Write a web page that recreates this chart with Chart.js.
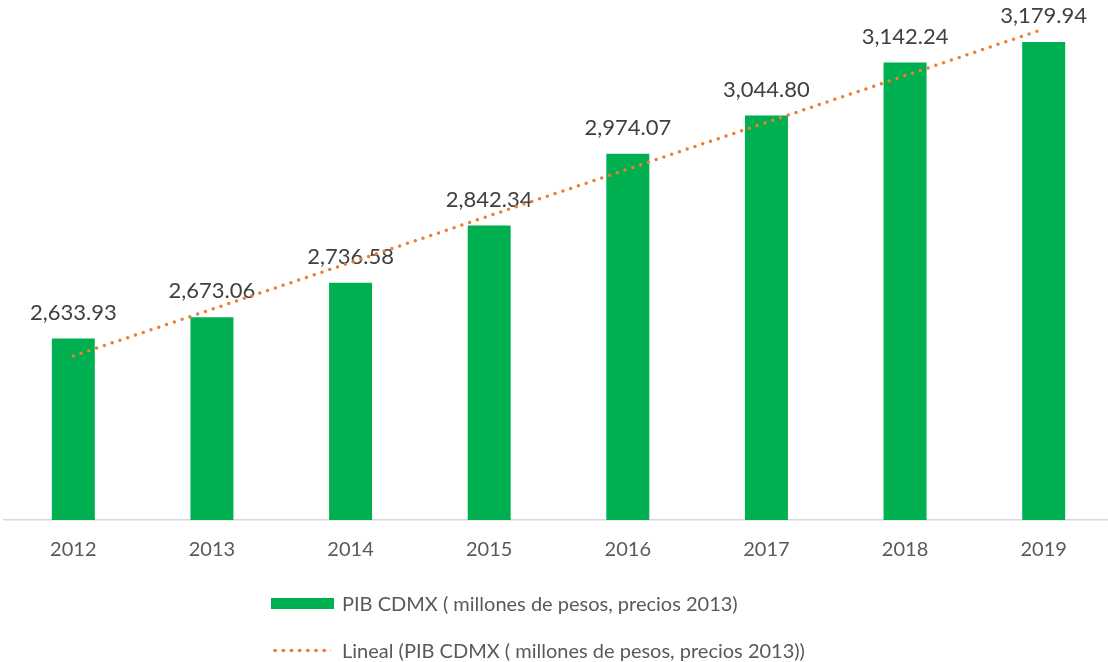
<!DOCTYPE html>
<html lang="es">
<head>
<meta charset="UTF-8">
<title>PIB CDMX</title>
<script src="https://cdn.jsdelivr.net/npm/chart.js@4.4.1/dist/chart.umd.min.js"></script>
<style>
  html, body { margin: 0; padding: 0; background: #fff; overflow: hidden; }
  #wrap { position: relative; width: 1108px; height: 662px; overflow: hidden; }
  #chart { position: absolute; left: 0; top: 0; }
  .leg { position: absolute; left: 271px; font: 20px Lato, sans-serif; color: #595959; white-space: nowrap; }
  .leg .key { position: absolute; left: 0; }
  .leg span.txt { position: absolute; left: 71px; top: 0; line-height: 24px; }
  .box { width: 63px; height: 11px; background: #00B050; top: 7px; }
  .dots { width: 60px; height: 5px; top: 10px;
    background: radial-gradient(circle, #ED7D31 1.7px, transparent 2.1px) 0 0 / 8.2px 5px repeat-x; }
</style>
</head>
<body>
<div id="wrap">
  <canvas id="chart" width="1113" height="662"></canvas>
  <div class="leg" style="top:591px"><div class="key box"></div><span class="txt">PIB CDMX ( millones de pesos, precios 2013)</span></div>
  <div class="leg" style="top:638px"><div class="key dots"></div><span class="txt">Lineal (PIB CDMX ( millones de pesos, precios 2013))</span></div>
</div>
<script>
const years = ['2012', '2013', '2014', '2015', '2016', '2017', '2018', '2019'];
const pib = [2633.93, 2673.06, 2736.58, 2842.34, 2974.07, 3044.80, 3142.24, 3179.94];
// linear trend
const lineal = [2602, 2688, 2774, 2860, 2946, 3032, 3118, 3204];

const barLabels = {
  id: 'barLabels',
  afterDatasetDraw(chart, args) {
    if (args.index !== 1) return;
    const ctx = chart.ctx;
    ctx.save();
    ctx.font = '22px Lato, sans-serif';
    ctx.fillStyle = '#404040';
    ctx.textAlign = 'center';
    ctx.textBaseline = 'middle';
    args.meta.data.forEach((bar, i) => {
      const txt = pib[i].toLocaleString('en-US', { minimumFractionDigits: 2, maximumFractionDigits: 2 });
      ctx.fillText(txt, bar.x, bar.y - 26);
    });
    ctx.restore();
  }
};

const ctx = document.getElementById('chart').getContext('2d');
new Chart(ctx, {
  data: {
    labels: years,
    datasets: [
      {
        type: 'line',
        label: 'Lineal (PIB CDMX ( millones de pesos, precios 2013))',
        data: lineal,
        borderColor: '#ED7D31',
        borderWidth: 3.5,
        borderDash: [0, 8.2],
        borderCapStyle: 'round',
        pointRadius: 0,
        fill: false,
        order: 0
      },
      {
        type: 'bar',
        label: 'PIB CDMX ( millones de pesos, precios 2013)',
        data: pib,
        backgroundColor: '#00B050',
        barPercentage: 0.31,
        categoryPercentage: 1,
        order: 1
      }
    ]
  },
  options: {
    responsive: false,
    animation: false,
    layout: { padding: { left: 4, right: 0, top: 4, bottom: 82 } },
    plugins: { legend: { display: false }, tooltip: { enabled: false } },
    scales: {
      x: {
        grid: { display: false, drawTicks: false },
        border: { display: true, color: '#d9d9d9', width: 1.5 },
        ticks: { padding: 18, color: '#595959', font: { family: 'Lato', size: 20 } }
      },
      y: {
        display: false,
        min: 2300,
        max: 3250
      }
    }
  },
  plugins: [barLabels]
});
</script>
</body>
</html>
